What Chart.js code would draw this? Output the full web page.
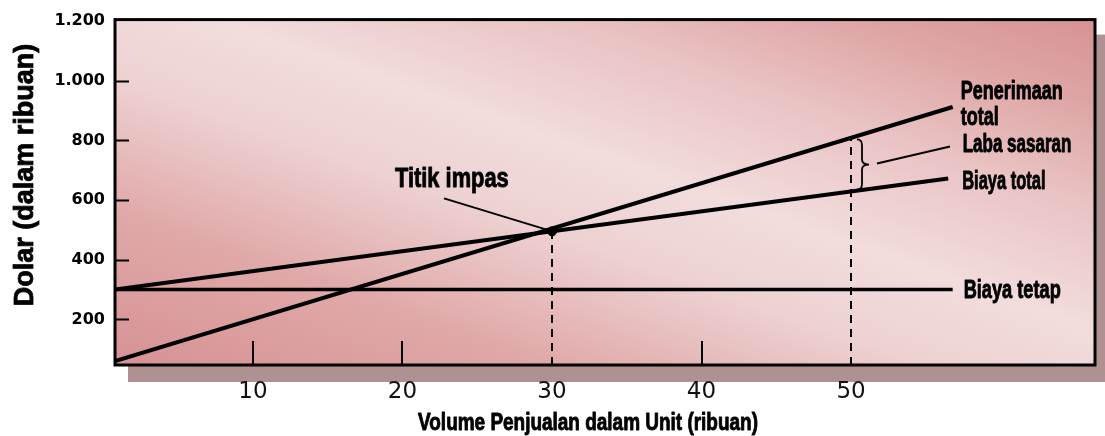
<!DOCTYPE html>
<html>
<head>
<meta charset="utf-8">
<script src="https://cdn.jsdelivr.net/npm/chart.js@4/dist/chart.umd.min.js"></script>
<style>
  html, body { margin: 0; padding: 0; background: #ffffff; }
  #wrap { width: 1105px; height: 436px; }
</style>
</head>
<body>
<div id="wrap"><canvas id="c" width="1105" height="436"></canvas></div>
<script>
// ---- data (thousands of units / thousands of dollars) ----
const xTickValues = [10, 20, 30, 40, 50];
const yTickValues = [200, 400, 600, 800, 1000, 1200];
const innerXTicks = [10, 20, 40];
const innerYTicks = [200, 400, 600, 800, 1000];

const revenueX = [0.77, 56.8];
const revenueY = [60, 912];
const totalCostX = [0.77, 56.5];
const totalCostY = [300, 672];
const fixedCostX = [0.77, 56.8];
const fixedCostY = [300, 300];

const breakEvenX = [30];
const breakEvenY = [495];
const targetX = [50];
const targetRevenueY = [810];
const targetCostY = [628];

const xRange = [0.77, 66.32];
const yRange = [47, 1205];

const labels = {
  revenue: ['Penerimaan', 'total'],
  profit: 'Laba sasaran',
  totalCost: 'Biaya total',
  fixedCost: 'Biaya tetap',
  breakEven: 'Titik impas',
  xTitle: 'Volume Penjualan dalam Unit (ribuan)',
  yTitle: 'Dolar (dalam ribuan)'
};

const pts = (xs, ys) => xs.map((x, i) => ({ x: x, y: ys[i] }));

function fmtThousands(v) {
  const s = String(v);
  return s.length > 3 ? s.slice(0, s.length - 3) + '.' + s.slice(s.length - 3) : s;
}

function condensed(ctx, text, x, y, size, sx, align, weight) {
  ctx.save();
  ctx.translate(x, y);
  ctx.scale(sx, 1);
  ctx.font = (weight || 'bold') + ' ' + size + 'px "Liberation Sans", Arial, sans-serif';
  ctx.textAlign = align || 'left';
  ctx.textBaseline = 'alphabetic';
  ctx.fillStyle = '#000';
  ctx.strokeStyle = '#000';
  ctx.lineWidth = 0.9;
  ctx.lineJoin = 'round';
  ctx.fillText(text, 0, 0);
  ctx.strokeText(text, 0, 0);
  ctx.restore();
}

const decor = {
  id: 'decor',
  beforeDraw(chart) {
    const ctx = chart.ctx;
    const { left, top, right, bottom } = chart.chartArea;
    const w = right - left, h = bottom - top;
    ctx.save();
    ctx.fillStyle = '#ffffff';
    ctx.fillRect(0, 0, chart.width, chart.height);
    // drop shadow
    ctx.fillStyle = 'rgb(176,145,145)';
    ctx.fillRect(left + 13, top + 15, w + 13, h + 2);
    // background gradient (dark corners bottom-left / top-right, light diagonal band)
    const cx = left + w / 2, cy = top + h / 2;
    const len = Math.sqrt(w * w + h * h);
    const ux = h / len, uy = -w / len;
    const e = w * h / len;
    const g = ctx.createLinearGradient(cx - e * ux, cy - e * uy, cx + e * ux, cy + e * uy);
    g.addColorStop(0.00, 'rgb(214,146,148)');
    g.addColorStop(0.22, 'rgb(224,168,168)');
    g.addColorStop(0.42, 'rgb(238,210,210)');
    g.addColorStop(0.55, 'rgb(242,220,220)');
    g.addColorStop(0.72, 'rgb(234,196,196)');
    g.addColorStop(0.88, 'rgb(222,164,164)');
    g.addColorStop(1.00, 'rgb(215,146,148)');
    ctx.fillStyle = g;
    ctx.fillRect(left, top, w, h);
    ctx.restore();
  },
  afterDatasetsDraw(chart) {
    const ctx = chart.ctx;
    const xs = chart.scales.x, ys = chart.scales.y;
    const { left, top, right, bottom } = chart.chartArea;
    ctx.save();
    // frame
    ctx.strokeStyle = '#000';
    ctx.lineWidth = 3;
    ctx.strokeRect(left, top, right - left, bottom - top);
    // inner tick marks
    ctx.lineWidth = 2;
    ctx.beginPath();
    innerYTicks.forEach(v => {
      const y = Math.round(ys.getPixelForValue(v)) + 0.5;
      ctx.moveTo(left, y); ctx.lineTo(left + 14, y);
    });
    innerXTicks.forEach(v => {
      const x = Math.round(xs.getPixelForValue(v));
      ctx.moveTo(x, bottom); ctx.lineTo(x, bottom - 24);
    });
    ctx.stroke();

    // break-even label + leader
    const bx = xs.getPixelForValue(breakEvenX[0]), by = ys.getPixelForValue(breakEvenY[0]);
    ctx.lineWidth = 2;
    ctx.beginPath();
    ctx.moveTo(bx - 108, by - 33);
    ctx.lineTo(bx - 3, by - 1);
    ctx.stroke();
    condensed(ctx, labels.breakEven, bx - 157, by - 44, 28, 0.78);

    // brace for target profit
    const tx = xs.getPixelForValue(targetX[0]);
    const yTop = ys.getPixelForValue(targetRevenueY[0]) + 2;
    const yBot = ys.getPixelForValue(targetCostY[0]) - 2;
    const mid = (yTop + yBot) / 2;
    const x0 = tx + 11;
    ctx.lineWidth = 1.8;
    ctx.beginPath();
    ctx.moveTo(x0 - 5, yTop);
    ctx.quadraticCurveTo(x0, yTop, x0, yTop + 6);
    ctx.lineTo(x0, mid - 5);
    ctx.quadraticCurveTo(x0, mid, x0 + 7, mid);
    ctx.quadraticCurveTo(x0, mid, x0, mid + 5);
    ctx.lineTo(x0, yBot - 6);
    ctx.quadraticCurveTo(x0, yBot, x0 - 5, yBot);
    ctx.stroke();
    // leader from brace to "Laba sasaran"
    ctx.lineWidth = 2;
    ctx.beginPath();
    ctx.moveTo(x0 + 15, mid - 1);
    ctx.lineTo(x0 + 88, mid - 18);
    ctx.stroke();

    // line end labels
    const rEndX = xs.getPixelForValue(revenueX[1]), rEndY = ys.getPixelForValue(revenueY[1]);
    condensed(ctx, labels.revenue[0], rEndX + 8, rEndY - 8, 25, 0.72);
    condensed(ctx, labels.revenue[1], rEndX + 8, rEndY + 18, 25, 0.72);
    condensed(ctx, labels.profit, rEndX + 10, ys.getPixelForValue(targetRevenueY[0]) + 15, 25, 0.68);
    const cEndX = xs.getPixelForValue(totalCostX[1]), cEndY = ys.getPixelForValue(totalCostY[1]);
    condensed(ctx, labels.totalCost, cEndX + 14, cEndY + 10, 25, 0.66);
    const fEndX = xs.getPixelForValue(fixedCostX[1]), fEndY = ys.getPixelForValue(fixedCostY[0]);
    condensed(ctx, labels.fixedCost, fEndX + 11, fEndY + 8, 26, 0.7);

    // axis titles
    condensed(ctx, labels.xTitle, (left + right) / 2 - 17, 430, 24, 0.79, 'center');
    ctx.save();
    ctx.translate(33, 175);
    ctx.rotate(-Math.PI / 2);
    ctx.font = 'bold 27px "Liberation Sans", Arial, sans-serif';
    ctx.textAlign = 'center';
    ctx.textBaseline = 'alphabetic';
    ctx.fillStyle = '#000';
    ctx.strokeStyle = '#000';
    ctx.lineWidth = 0.8;
    ctx.fillText(labels.yTitle, 0, 0);
    ctx.strokeText(labels.yTitle, 0, 0);
    ctx.restore();

    ctx.restore();
  }
};

const lineDs = (data, width, extra) => Object.assign({
  data: data,
  borderColor: '#000',
  borderWidth: width,
  pointRadius: 0,
  showLine: true,
  fill: false,
  tension: 0,
  borderCapStyle: 'butt'
}, extra || {});

new Chart(document.getElementById('c'), {
  type: 'scatter',
  data: {
    datasets: [
      lineDs(pts([breakEvenX[0], breakEvenX[0]], [yRange[0], breakEvenY[0]]), 2, { borderDash: [8, 6] }),
      lineDs(pts([targetX[0], targetX[0]], [yRange[0], targetRevenueY[0]]), 2, { borderDash: [8, 6] }),
      lineDs(pts(fixedCostX, fixedCostY), 3.5),
      lineDs(pts(totalCostX, totalCostY), 4),
      lineDs(pts(revenueX, revenueY), 4),
      {
        data: pts(breakEvenX, breakEvenY),
        pointRadius: 4.5,
        pointBackgroundColor: '#000',
        pointBorderColor: '#000',
        showLine: false
      }
    ]
  },
  options: {
    responsive: false,
    animation: false,
    devicePixelRatio: 1,
    layout: { padding: { top: 17, right: 10, left: 0, bottom: 0 } },
    plugins: { legend: { display: false }, tooltip: { enabled: false } },
    scales: {
      x: {
        type: 'linear',
        min: xRange[0],
        max: xRange[1],
        afterBuildTicks(scale) { scale.ticks = xTickValues.map(v => ({ value: v })); },
        afterFit(scale) { scale.height = 71; },
        grid: { display: false, drawTicks: false },
        border: { display: false },
        ticks: {
          autoSkip: false,
          maxRotation: 0,
          padding: 13,
          color: '#111',
          font: { family: '"DejaVu Sans", Verdana, sans-serif', size: 23 },
          callback: v => String(v)
        }
      },
      y: {
        type: 'linear',
        min: yRange[0],
        max: yRange[1],
        afterBuildTicks(scale) { scale.ticks = yTickValues.map(v => ({ value: v })); },
        afterFit(scale) { scale.width = 115; },
        grid: { display: false, drawTicks: false },
        border: { display: false },
        ticks: {
          autoSkip: false,
          padding: 10,
          color: '#000',
          font: { family: '"DejaVu Sans", Verdana, sans-serif', size: 16, weight: 'bold' },
          callback: v => fmtThousands(v)
        }
      }
    }
  },
  plugins: [decor]
});
</script>
</body>
</html>
